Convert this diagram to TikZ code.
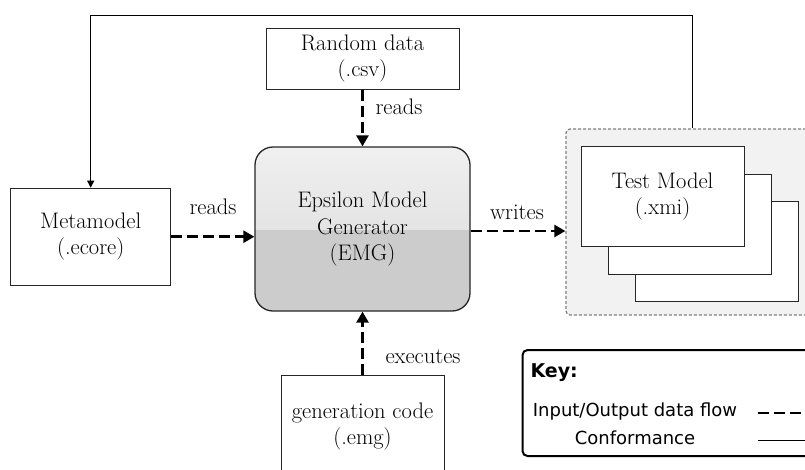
\documentclass[tikz,border=0pt]{standalone}
\usepackage{fontspec}
\newfontfamily\keyfont{DejaVu Sans}
\usetikzlibrary{arrows.meta,positioning}

\begin{document}
\begin{tikzpicture}[x=1pt, y=-1pt,
	every node/.style={font=\fontsize{22.5}{25.5}\selectfont},
	box/.style={draw=black!85, line width=1pt, fill=white, align=center, inner sep=0pt},
	flow/.style={line width=2.6pt, dash pattern=on 11pt off 5pt, -{Triangle[length=11pt,width=12pt]}},
	conform/.style={line width=1pt, -{Triangle[length=7pt,width=7pt]}}]
	\clip (0,0) rectangle (805,469);
	
	% ===================== 方框 =====================
	\node[box, minimum width=193pt, minimum height=61pt] (random) at (362.5,58.5) {Random data\\(.csv)};
	\node[box, minimum width=160pt, minimum height=97pt] (meta) at (90.7,236.7) {Metamodel\\(.ecore)};
	\node[box, minimum width=163pt, minimum height=103pt] (gen) at (362.5,426.5) {generation code\\(.emg)};
	\node[box, rounded corners=18pt, line width=1.3pt, fill=black!20,
		font=\fontsize{22.5}{26.5}\selectfont,
		minimum width=215pt, minimum height=164pt,
		path picture={\shade[sharp corners, top color=black!6, bottom color=black!15]
			(path picture bounding box.north west) rectangle (path picture bounding box.east);}]
		(emg) at (362.5,229) {Epsilon Model\\Generator\\(EMG)};
	
	% 测试模型 (虚线框)
	\node[draw=black!50, fill=black!5, dash pattern=on 3pt off 2pt, line width=1.3pt,
		rounded corners=4pt, minimum width=264pt, minimum height=186pt] (models) at (698,222) {};
	\node[box, minimum width=163pt, minimum height=100pt] (test3) at (716.5,251) {};
	\node[box, minimum width=163pt, minimum height=100pt] (test2) at (689.5,224) {};
	\node[box, minimum width=163pt, minimum height=100pt] (test1) at (662.5,196.5) {Test Model\\(.xmi)};
	
	% 黑色虚线箭头
	\draw[flow] (random) -- (emg);
	\draw[flow] (gen) -- (emg);
	\draw[flow] (meta.east) -- (meta.east -| emg.west);
	\coordinate (wr) at ([yshift=-2pt]emg.east);
	\draw[flow] (wr) -- (wr -| models.west);
	
	% 细实线 (conformance)
	\coordinate (loop) at (692.7,15.5);
	\draw[conform] (models.north -| loop) -- (loop) -| (meta.north);
	
	% 字母标注
	\node (readsTop) at (399,107) {reads};
	\node (readsLeft) at (213,207) {reads};
	\node (writes) at (517,212) {writes};
	\node (executes) at (423,357) {executes};
	
	% ===================== Key =====================
	\node[draw, line width=2pt, rounded corners=5pt, minimum width=307pt, minimum height=106pt] (key) at (676,403) {};
	\node[font=\keyfont\bfseries\fontsize{19}{22}\selectfont, anchor=west] (keyTitle) at (527,373) {Key:};
	\node[font=\keyfont\fontsize{18}{22}\selectfont] (keyFlow) at (635,412) {Input/Output data flow};
	\node[font=\keyfont\fontsize{18}{22}\selectfont] (keyConf) at (635,438) {Conformance};
	\coordinate (flowS) at (758,413);
	\coordinate (flowE) at (812,413);
	\coordinate (confS) at (758,440);
	\coordinate (confE) at (812,440);
	\draw[line width=2.6pt, dash pattern=on 11pt off 5pt] (flowS) -- (flowE);
	\draw[line width=0.8pt] (confS) -- (confE);
\end{tikzpicture}
\end{document}
